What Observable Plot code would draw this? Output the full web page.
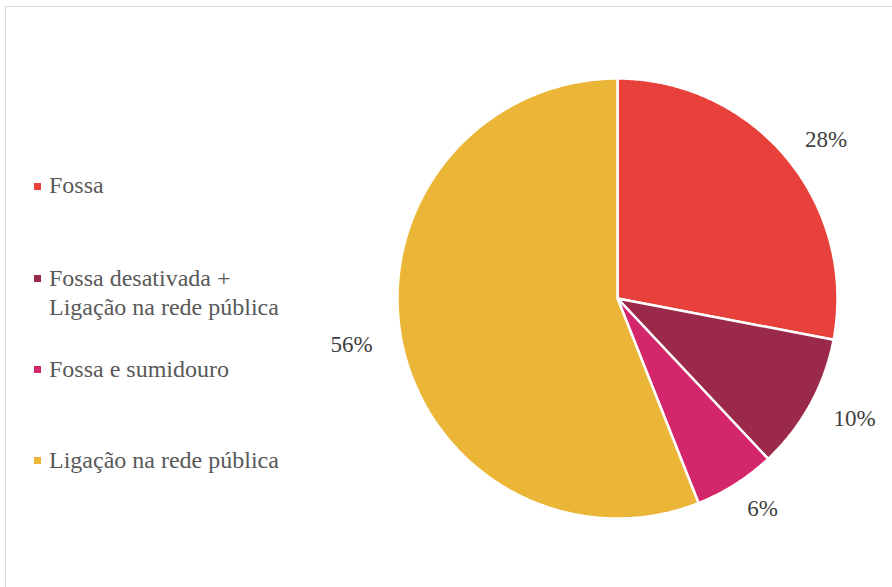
<!DOCTYPE html>
<html>
<head>
<meta charset="utf-8">
<script src="https://cdn.jsdelivr.net/npm/d3@7"></script>
<script src="https://cdn.jsdelivr.net/npm/@observablehq/plot@0.6"></script>
<style>
  html, body { margin: 0; padding: 0; background: #fff; }
  #wrap { position: relative; width: 892px; height: 587px; overflow: hidden; font-family: "Liberation Serif", serif; }
  #border { position: absolute; left: 5px; top: 6px; width: 1000px; height: 700px; border: 1px solid #d9d9d9; box-sizing: border-box; }
  #chart { position: absolute; left: 0; top: 0; }
  .lg-sq { position: absolute; width: 7px; height: 7px; }
  .lg-tx { position: absolute; left: 49px; font-family: "Liberation Serif", serif; font-size: 24px; line-height: 29px; color: #595959; white-space: nowrap; }
  #chart svg text { font-family: "Liberation Serif", serif; }
</style>
</head>
<body>
<div id="wrap">
  <div id="border"></div>
  <div id="chart"></div>
</div>
<script>
// ---- data ----
const categories = ["Fossa", "Fossa desativada + Ligação na rede pública", "Fossa e sumidouro", "Ligação na rede pública"];
const legendLines = [["Fossa"], ["Fossa desativada +", "Ligação na rede pública"], ["Fossa e sumidouro"], ["Ligação na rede pública"]];
const values = [28, 10, 6, 56];
const valueLabels = ["28%", "10%", "6%", "56%"];
const colors = ["#E8403A", "#9B2A4A", "#D4266A", "#EBB537"];

// ---- build slices (unit circle, starting at 12 o'clock, clockwise) ----
const pie = d3.pie().sort(null).value(d => d.value);
const arcs = pie(categories.map((c, i) => ({cat: c, value: values[i], label: valueLabels[i]})));

const pts = [];
for (const a of arcs) {
  pts.push({cat: a.data.cat, x: 0, y: 0});
  const n = Math.max(2, Math.ceil((a.endAngle - a.startAngle) / 0.01));
  for (let k = 0; k <= n; k++) {
    const t = a.startAngle + (a.endAngle - a.startAngle) * k / n;
    pts.push({cat: a.data.cat, x: Math.sin(t), y: Math.cos(t)});
  }
}
// labels placed just outside the pie along each slice's mid-angle
const labelKx = 1.23, labelKy = 1.13;
const lbls = arcs.map(a => {
  const m = (a.startAngle + a.endAngle) / 2;
  return {x: labelKx * Math.sin(m), y: labelKy * Math.cos(m), text: a.data.label};
});

const cx = 617, cy = 298, R = 220;
const plot = Plot.plot({
  width: 892,
  height: 587,
  style: {fontFamily: "'Liberation Serif', serif", background: "transparent"},
  x: {domain: [-1, 1], range: [cx - R, cx + R], axis: null},
  y: {domain: [-1, 1], range: [cy + R, cy - R], axis: null},
  color: {domain: categories, range: colors},
  marks: [
    Plot.line(pts, {x: "x", y: "y", z: "cat", fill: "cat", stroke: "white", strokeWidth: 2.5, strokeLinejoin: "miter", curve: "linear-closed"}),
    Plot.text(lbls, {x: "x", y: "y", text: "text", fontSize: 23, fill: "#404040", fontFamily: "'Liberation Serif', serif"})
  ]
});
document.getElementById("chart").appendChild(plot);

// ---- legend (HTML) ----
const wrap = document.getElementById("wrap");
const capCenters = [186, 278.5, 369.5, 460.5];
legendLines.forEach((lines, i) => {
  const sq = document.createElement("div");
  sq.className = "lg-sq";
  sq.style.left = "34px";
  sq.style.top = (capCenters[i] - 3.5) + "px";
  sq.style.background = colors[i];
  wrap.appendChild(sq);
  const tx = document.createElement("div");
  tx.className = "lg-tx";
  tx.style.top = (capCenters[i] - 14.7) + "px";
  tx.innerHTML = lines.join("<br>");
  wrap.appendChild(tx);
});
</script>
</body>
</html>
